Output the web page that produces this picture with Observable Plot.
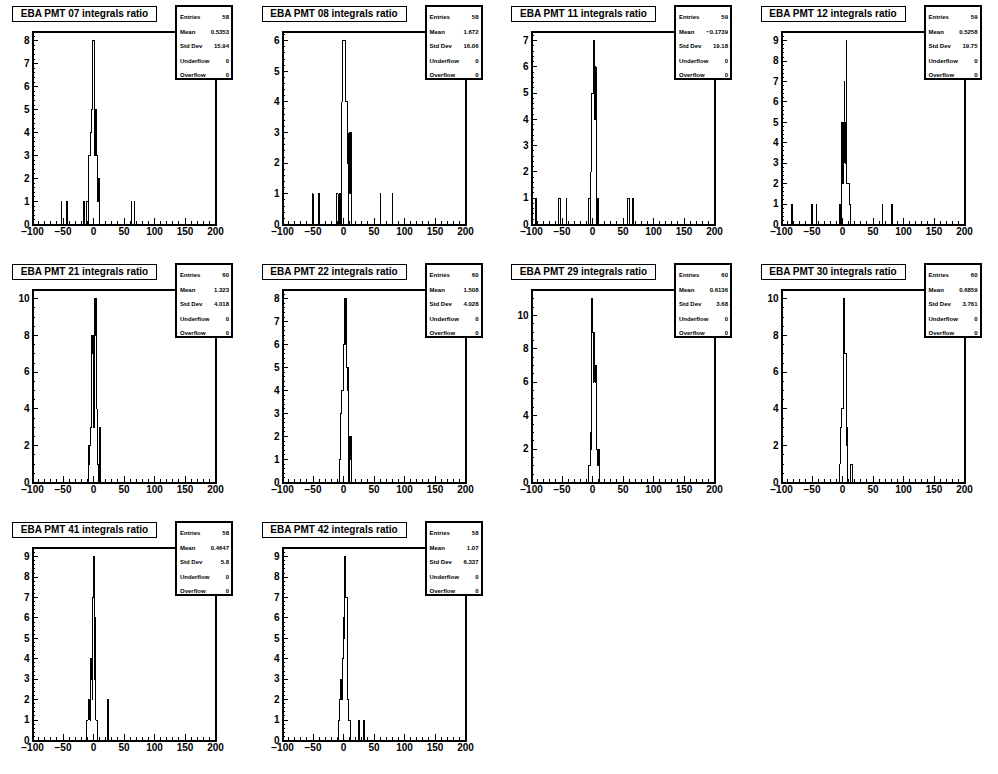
<!DOCTYPE html>
<html><head><meta charset="utf-8">
<script src="https://cdn.jsdelivr.net/npm/d3@7"></script>
<script src="https://cdn.jsdelivr.net/npm/@observablehq/plot@0.6"></script>
<style>
html,body{margin:0;padding:0;background:#fff;}
#root{position:relative;width:998px;height:774px;overflow:hidden;font-family:"Liberation Sans",Arial,sans-serif;}
.panel{position:absolute;width:250px;height:258px;}
.panel svg{position:absolute;left:0;top:0;}
.title{position:absolute;left:12px;top:6px;width:145px;height:16px;border:1.5px solid #000;box-sizing:border-box;background:#fff;font-weight:bold;font-size:10px;text-align:center;line-height:13px;white-space:nowrap;}
.stats{position:absolute;left:175px;top:5px;width:58px;height:75px;border:2px solid #000;box-sizing:border-box;background:#fff;padding:3px 2px 0 3px;}
.stats .row{display:flex;justify-content:space-between;height:14.6px;line-height:14.6px;font-size:6px;font-weight:bold;}
</style>
</head><body><div id="root"></div>
<script>
// ---- data (bin left edge, count), bin width 1 ----
const pmt07 = [[-53,1],[-45,1],[-44,1],[-16,1],[-11,1],[-10,1],[-8,3],[-7,3],[-6,3],[-5,4],[-4,4],[-3,5],[-2,5],[-1,8],[0,8],[1,5],[2,3],[3,5],[4,5],[5,3],[6,2],[7,1],[8,2],[9,2],[62,1],[67,1]];
const pmt08 = [[-51,1],[-41,1],[-40,1],[-12,1],[-11,1],[-10,1],[-6,1],[-3,4],[-2,4],[-1,6],[0,6],[1,6],[2,6],[3,4],[4,4],[5,4],[6,4],[7,2],[9,3],[10,1],[11,3],[12,3],[60,1],[80,1]];
const pmt11 = [[-93,1],[-55,1],[-54,1],[-43,1],[-6,1],[-5,1],[-3,2],[-2,5],[-1,5],[0,5],[1,5],[2,7],[3,5],[4,4],[5,6],[6,3],[9,1],[58,1],[59,1],[66,1]];
const pmt12 = [[-84,1],[-83,1],[-51,1],[-50,1],[-43,1],[-5,1],[-4,1],[-2,3],[-1,5],[0,2],[1,5],[2,5],[3,7],[4,3],[5,5],[6,9],[7,2],[8,2],[9,2],[10,2],[11,1],[12,1],[65,1],[80,1],[81,1]];
const pmt21 = [[-9,1],[-8,2],[-7,1],[-6,2],[-5,3],[-4,3],[-3,8],[-2,7],[-1,8],[0,3],[1,9],[2,10],[3,8],[4,10],[5,4],[6,1],[7,1],[10,3]];
const pmt22 = [[-7,1],[-6,1],[-5,3],[-4,3],[-3,4],[-2,4],[-1,4],[0,6],[1,6],[2,8],[3,6],[4,8],[5,5],[6,4],[7,5],[10,2],[11,1],[12,2]];
const pmt29 = [[-6,1],[-5,1],[-4,3],[-3,2],[-2,3],[-1,11],[0,9],[1,6],[2,9],[3,7],[4,6],[5,7],[6,2],[7,2],[8,1],[9,1],[10,2]];
const pmt30 = [[-5,1],[-4,3],[-3,3],[-2,4],[-1,4],[0,4],[1,10],[2,8],[3,10],[4,7],[5,7],[6,2],[7,2],[8,3],[13,1],[14,1],[15,1]];
const pmt41 = [[-12,1],[-11,1],[-10,1],[-9,2],[-8,2],[-7,2],[-6,1],[-5,4],[-4,3],[-3,4],[-2,2],[-1,7],[0,9],[1,9],[2,3],[3,6],[4,1],[5,1],[6,1],[23,2]];
const pmt42 = [[-9,1],[-8,1],[-7,1],[-6,2],[-5,3],[-4,2],[-3,3],[-2,2],[-1,4],[0,6],[1,5],[2,9],[3,9],[4,7],[5,7],[6,5],[7,2],[8,1],[9,1],[10,1],[25,1],[26,1],[32,1],[33,1]];

const titles = ["EBA PMT 07 integrals ratio","EBA PMT 08 integrals ratio","EBA PMT 11 integrals ratio","EBA PMT 12 integrals ratio","EBA PMT 21 integrals ratio","EBA PMT 22 integrals ratio","EBA PMT 29 integrals ratio","EBA PMT 30 integrals ratio","EBA PMT 41 integrals ratio","EBA PMT 42 integrals ratio"];
const entries = ["58","58","59","59","60","60","60","60","58","58"];
const means = ["0.5353","1.672","\u22120.1739","0.5258","1.323","1.508","0.6136","0.6859","0.4647","1.07"];
const stdDevs = ["15.94","16.06","19.18","19.75","4.018","4.028","3.68","3.761","5.8","6.337"];
const underflows = ["0","0","0","0","0","0","0","0","0","0"];
const overflows = ["0","0","0","0","0","0","0","0","0","0"];
const yMajorStep = [1,1,1,1,2,1,2,2,1,1];
const yMinorStep = [0.2,0.2,0.2,0.2,0.5,0.2,0.5,0.5,0.2,0.2];
const xMajor = [-100,-50,0,50,100,150,200];
const xMinorStep = 10;
const xDomain = [-100,200];

const histograms = [pmt07,pmt08,pmt11,pmt12,pmt21,pmt22,pmt29,pmt30,pmt41,pmt42];
const fmt = d => d < 0 ? "\u2212" + Math.abs(d) : String(+d.toFixed(2));
const root = document.getElementById("root");

histograms.forEach((bins, i) => {
  const col = i % 4, row = Math.floor(i / 4);
  const div = document.createElement("div");
  div.className = "panel";
  div.style.left = (col * 249.5) + "px";
  div.style.top = (row * 258) + "px";
  const counts = new Map(bins);
  const pts = d3.range(xDomain[0], xDomain[1] + 1).map(x => ({x, y: counts.get(x) ?? 0}));
  const yTop = d3.max(bins, d => d[1]) * 1.05;
  const yMaj = d3.range(0, yTop + 1e-9, yMajorStep[i]);
  const yMin = d3.range(0, yTop + 1e-9, yMinorStep[i]);
  const xMin = d3.range(xDomain[0], xDomain[1] + 1, xMinorStep);
  const W = 250, H = 258, ml = 32, mr = 35, mt = 31, mb = 34;
  const fw = W - ml - mr, fh = H - mt - mb;
  const crisp = {stroke: "#000", strokeWidth: 1, shapeRendering: "crispEdges"};
  const chart = Plot.plot({
    width: W, height: H, marginLeft: ml, marginRight: mr, marginTop: mt, marginBottom: mb,
    x: {domain: xDomain, label: null},
    y: {domain: [0, yTop], label: null},
    style: {fontFamily: "'Liberation Sans', Arial, sans-serif", fontWeight: "bold", background: "transparent", overflow: "visible", color: "#000"},
    marks: [
      Plot.ruleX(xMin, {...crisp, insetTop: fh - 3}),
      Plot.ruleX(xMajor, {...crisp, insetTop: fh - 6}),
      Plot.ruleY(yMin, {...crisp, insetRight: fw - 3}),
      Plot.ruleY(yMaj, {...crisp, insetRight: fw - 5.5}),
      Plot.line(pts, {x: "x", y: "y", curve: "step-after", ...crisp}),
      Plot.frame({stroke: "#000", strokeWidth: 2, shapeRendering: "crispEdges"}),
      Plot.axisX(xMajor, {tickSize: 0, tickPadding: 3, fontSize: 10, tickFormat: fmt}),
      Plot.axisY(yMaj, {tickSize: 0, tickPadding: 3, fontSize: 10, tickFormat: fmt})
    ]
  });
  div.appendChild(chart);
  const t = document.createElement("div");
  t.className = "title";
  t.textContent = titles[i];
  div.appendChild(t);
  const s = document.createElement("div");
  s.className = "stats";
  const rows = [["Entries", entries[i]], ["Mean", means[i]], ["Std Dev", stdDevs[i]], ["Underflow", underflows[i]], ["Overflow", overflows[i]]];
  rows.forEach(([k, v]) => {
    const r = document.createElement("div");
    r.className = "row";
    const a = document.createElement("span"); a.textContent = k;
    const b = document.createElement("span"); b.textContent = v;
    r.appendChild(a); r.appendChild(b);
    s.appendChild(r);
  });
  div.appendChild(s);
  root.appendChild(div);
});
</script>
</body></html>
